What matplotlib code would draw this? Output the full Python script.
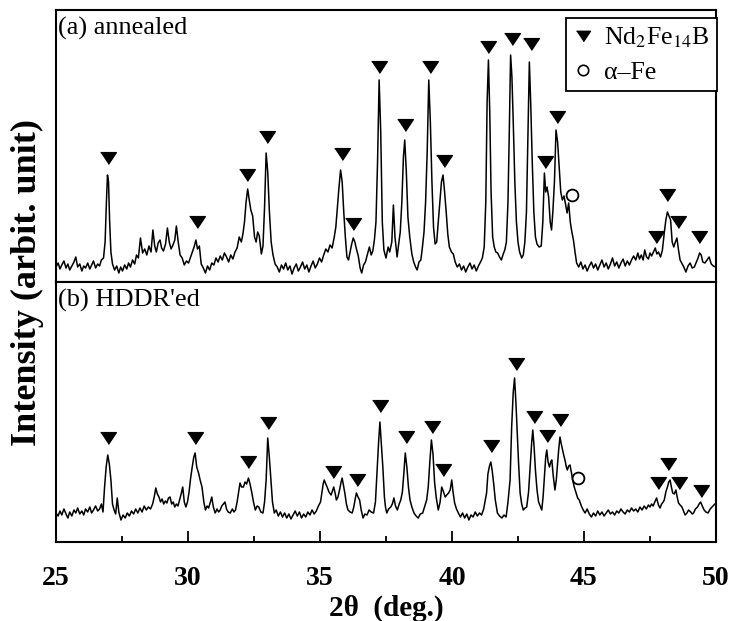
import matplotlib
matplotlib.use('Agg')
import matplotlib.pyplot as plt
from matplotlib.lines import Line2D

plt.rcParams['font.family'] = ['Liberation Serif', 'DejaVu Serif']
plt.rcParams['mathtext.fontset'] = 'stix'

# (a) annealed pattern: (2theta, intensity)
pattern_a = [
    (25.00, 15), (25.08, 19), (25.15, 13), (25.22, 17), (25.30, 21), (25.38, 14), (25.45, 18), (25.52, 12),
    (25.60, 16), (25.68, 20), (25.75, 25), (25.82, 15), (25.90, 18), (25.98, 11), (26.05, 16), (26.12, 14),
    (26.20, 19), (26.28, 13), (26.35, 17), (26.42, 21), (26.50, 14), (26.58, 18), (26.65, 16), (26.72, 22),
    (26.80, 24), (26.86, 40), (26.91, 80), (26.95, 107), (26.99, 100), (27.03, 62), (27.08, 30), (27.14, 18),
    (27.22, 12), (27.30, 16), (27.38, 9), (27.45, 15), (27.52, 11), (27.60, 17), (27.68, 13), (27.75, 19),
    (27.82, 15), (27.90, 22), (27.98, 18), (28.05, 27), (28.12, 24), (28.20, 44), (28.28, 29), (28.36, 33),
    (28.44, 27), (28.52, 36), (28.60, 30), (28.67, 52), (28.74, 36), (28.80, 30), (28.87, 39), (28.94, 42),
    (29.00, 34), (29.07, 31), (29.15, 38), (29.22, 54), (29.29, 40), (29.36, 33), (29.43, 37), (29.50, 42),
    (29.56, 56), (29.63, 40), (29.70, 27), (29.78, 24), (29.86, 17), (29.94, 21), (30.02, 19), (30.10, 25),
    (30.17, 30), (30.23, 35), (30.30, 42), (30.36, 33), (30.43, 36), (30.50, 18), (30.58, 14), (30.66, 9),
    (30.74, 16), (30.82, 12), (30.90, 19), (30.98, 17), (31.06, 24), (31.14, 20), (31.22, 26), (31.30, 22),
    (31.38, 29), (31.46, 25), (31.54, 20), (31.62, 27), (31.70, 23), (31.78, 30), (31.86, 34), (31.94, 45),
    (32.02, 40), (32.08, 48), (32.14, 60), (32.20, 80), (32.26, 93), (32.32, 82), (32.38, 72), (32.45, 66),
    (32.52, 45), (32.58, 40), (32.64, 50), (32.70, 46), (32.78, 28), (32.84, 36), (32.90, 75), (32.96, 129),
    (33.02, 110), (33.08, 72), (33.15, 40), (33.22, 27), (33.30, 18), (33.38, 15), (33.46, 10), (33.54, 17),
    (33.62, 13), (33.70, 19), (33.78, 12), (33.86, 16), (33.94, 8), (34.02, 14), (34.10, 18), (34.18, 11),
    (34.26, 15), (34.34, 20), (34.42, 13), (34.50, 17), (34.58, 10), (34.66, 16), (34.74, 21), (34.82, 14),
    (34.90, 18), (34.98, 24), (35.06, 20), (35.14, 27), (35.22, 33), (35.30, 30), (35.38, 37), (35.46, 34),
    (35.54, 45), (35.60, 55), (35.66, 75), (35.72, 95), (35.78, 112), (35.84, 100), (35.90, 70), (35.96, 45),
    (36.02, 25), (36.08, 22), (36.14, 30), (36.20, 38), (36.26, 44), (36.32, 40), (36.38, 33), (36.45, 26),
    (36.52, 14), (36.58, 9), (36.65, 17), (36.72, 20), (36.80, 28), (36.87, 35), (36.94, 27), (37.00, 31),
    (37.06, 42), (37.12, 60), (37.18, 120), (37.24, 202), (37.30, 150), (37.36, 60), (37.42, 32), (37.50, 24),
    (37.58, 35), (37.64, 30), (37.72, 40), (37.78, 77), (37.84, 45), (37.92, 25), (37.98, 38), (38.04, 50),
    (38.10, 80), (38.16, 125), (38.21, 142), (38.27, 110), (38.33, 65), (38.40, 45), (38.48, 28), (38.55, 20),
    (38.62, 15), (38.68, 12), (38.75, 20), (38.82, 22), (38.88, 35), (38.94, 50), (39.00, 80), (39.06, 130),
    (39.12, 202), (39.18, 160), (39.24, 100), (39.30, 55), (39.36, 38), (39.42, 40), (39.48, 60), (39.54, 80),
    (39.60, 100), (39.66, 107), (39.72, 90), (39.78, 70), (39.84, 48), (39.90, 35), (39.98, 30), (40.05, 28),
    (40.12, 20), (40.20, 15), (40.28, 18), (40.36, 12), (40.44, 16), (40.52, 10), (40.60, 15), (40.68, 19),
    (40.76, 13), (40.84, 17), (40.92, 11), (41.00, 16), (41.08, 20), (41.15, 24), (41.22, 35), (41.28, 80),
    (41.33, 180), (41.38, 222), (41.43, 170), (41.48, 90), (41.54, 45), (41.60, 35), (41.66, 30), (41.73, 29),
    (41.80, 25), (41.87, 22), (41.94, 28), (42.00, 32), (42.06, 40), (42.12, 80), (42.17, 150), (42.22, 227),
    (42.27, 205), (42.32, 160), (42.38, 100), (42.44, 60), (42.50, 40), (42.56, 30), (42.64, 24), (42.70, 27),
    (42.76, 40), (42.82, 70), (42.88, 150), (42.93, 220), (42.98, 180), (43.04, 120), (43.10, 70), (43.16, 45),
    (43.22, 38), (43.30, 35), (43.38, 36), (43.44, 60), (43.50, 109), (43.55, 90), (43.60, 95), (43.66, 85),
    (43.72, 60), (43.77, 52), (43.82, 70), (43.88, 100), (43.94, 152), (44.00, 140), (44.06, 115), (44.12, 90),
    (44.18, 82), (44.24, 86), (44.30, 78), (44.36, 69), (44.42, 79), (44.48, 60), (44.54, 50), (44.60, 42),
    (44.66, 30), (44.72, 19), (44.80, 15), (44.88, 20), (44.96, 13), (45.04, 17), (45.12, 11), (45.20, 16),
    (45.28, 20), (45.36, 14), (45.44, 18), (45.52, 12), (45.60, 17), (45.68, 22), (45.76, 15), (45.84, 19),
    (45.92, 13), (46.00, 18), (46.08, 24), (46.16, 16), (46.24, 20), (46.32, 14), (46.40, 19), (46.48, 23),
    (46.56, 16), (46.64, 21), (46.72, 17), (46.80, 22), (46.88, 26), (46.96, 22), (47.04, 29), (47.10, 23),
    (47.17, 27), (47.24, 22), (47.30, 32), (47.37, 25), (47.44, 23), (47.50, 29), (47.56, 26), (47.63, 30),
    (47.70, 34), (47.76, 28), (47.82, 30), (47.90, 25), (47.97, 32), (48.04, 49), (48.10, 62), (48.16, 70),
    (48.22, 66), (48.28, 62), (48.34, 40), (48.40, 35), (48.46, 40), (48.52, 44), (48.58, 32), (48.64, 22),
    (48.70, 19), (48.78, 15), (48.86, 10), (48.94, 16), (49.02, 19), (49.10, 14), (49.18, 15), (49.26, 20),
    (49.32, 24), (49.38, 29), (49.44, 27), (49.50, 20), (49.58, 19), (49.66, 22), (49.74, 25), (49.82, 18),
    (49.90, 16), (50.00, 15),
]

# (b) HDDR'ed pattern
pattern_b = [
    (25.00, 29), (25.08, 26), (25.15, 31), (25.22, 27), (25.30, 33), (25.38, 28), (25.45, 24), (25.52, 30),
    (25.60, 26), (25.68, 32), (25.75, 29), (25.82, 34), (25.90, 28), (25.98, 31), (26.05, 27), (26.12, 33),
    (26.20, 30), (26.28, 35), (26.35, 29), (26.42, 32), (26.50, 36), (26.58, 31), (26.65, 33), (26.72, 38),
    (26.78, 30), (26.84, 55), (26.90, 75), (26.96, 87), (27.02, 78), (27.08, 62), (27.14, 38), (27.20, 32),
    (27.26, 28), (27.32, 44), (27.38, 30), (27.46, 22), (27.54, 27), (27.62, 24), (27.70, 29), (27.78, 26),
    (27.86, 31), (27.94, 28), (28.02, 33), (28.10, 29), (28.18, 34), (28.26, 30), (28.34, 36), (28.42, 32),
    (28.50, 35), (28.58, 33), (28.66, 38), (28.72, 45), (28.78, 54), (28.84, 48), (28.90, 45), (28.96, 40),
    (29.02, 43), (29.08, 38), (29.14, 41), (29.20, 39), (29.26, 44), (29.32, 45), (29.38, 38), (29.44, 40),
    (29.50, 35), (29.56, 38), (29.62, 36), (29.68, 42), (29.74, 48), (29.80, 55), (29.86, 40), (29.92, 35),
    (29.98, 40), (30.04, 50), (30.10, 64), (30.16, 75), (30.22, 85), (30.27, 89), (30.33, 75), (30.40, 69),
    (30.46, 62), (30.53, 55), (30.60, 40), (30.66, 32), (30.72, 36), (30.78, 34), (30.85, 40), (30.90, 45),
    (30.96, 35), (31.03, 29), (31.10, 33), (31.16, 30), (31.22, 32), (31.28, 36), (31.34, 38), (31.40, 40),
    (31.46, 33), (31.52, 30), (31.60, 29), (31.68, 33), (31.74, 30), (31.80, 32), (31.86, 40), (31.92, 50),
    (31.97, 59), (32.03, 55), (32.10, 55), (32.16, 60), (32.22, 58), (32.29, 64), (32.35, 58), (32.42, 49),
    (32.48, 40), (32.55, 32), (32.62, 36), (32.68, 35), (32.76, 30), (32.84, 29), (32.90, 40), (32.96, 62),
    (33.02, 104), (33.08, 85), (33.14, 62), (33.20, 40), (33.27, 29), (33.34, 32), (33.42, 26), (33.50, 30),
    (33.58, 25), (33.66, 29), (33.74, 24), (33.82, 28), (33.90, 23), (33.98, 27), (34.06, 31), (34.14, 26),
    (34.22, 30), (34.30, 24), (34.38, 28), (34.46, 25), (34.54, 30), (34.62, 27), (34.70, 32), (34.78, 28),
    (34.86, 31), (34.94, 36), (35.02, 40), (35.07, 49), (35.12, 58), (35.16, 62), (35.22, 58), (35.27, 55),
    (35.34, 50), (35.42, 47), (35.48, 52), (35.52, 55), (35.58, 48), (35.62, 42), (35.68, 45), (35.74, 52),
    (35.80, 60), (35.84, 64), (35.90, 55), (35.94, 49), (36.00, 38), (36.06, 32), (36.14, 30), (36.22, 29),
    (36.28, 35), (36.34, 44), (36.38, 49), (36.44, 45), (36.50, 42), (36.56, 32), (36.63, 24), (36.70, 28),
    (36.78, 27), (36.86, 32), (36.94, 30), (37.03, 29), (37.10, 40), (37.16, 69), (37.22, 100), (37.27, 120),
    (37.32, 100), (37.38, 75), (37.44, 45), (37.48, 35), (37.53, 29), (37.60, 33), (37.68, 35), (37.74, 38),
    (37.80, 44), (37.86, 36), (37.93, 32), (38.00, 38), (38.06, 42), (38.12, 50), (38.18, 70), (38.23, 89),
    (38.29, 75), (38.35, 55), (38.41, 42), (38.48, 35), (38.56, 29), (38.64, 26), (38.72, 24), (38.80, 28),
    (38.89, 29), (38.96, 35), (39.04, 42), (39.10, 55), (39.16, 80), (39.22, 102), (39.28, 88), (39.34, 60),
    (39.40, 45), (39.48, 32), (39.55, 40), (39.61, 55), (39.68, 50), (39.74, 45), (39.80, 47), (39.87, 49),
    (39.93, 52), (39.99, 62), (40.04, 50), (40.10, 39), (40.17, 33), (40.24, 29), (40.32, 25), (40.40, 29),
    (40.48, 24), (40.56, 28), (40.64, 22), (40.72, 27), (40.80, 25), (40.88, 30), (40.96, 26), (41.04, 29),
    (41.12, 27), (41.20, 33), (41.26, 42), (41.31, 49), (41.36, 68), (41.42, 76), (41.47, 80), (41.52, 72),
    (41.58, 58), (41.64, 42), (41.72, 29), (41.80, 26), (41.89, 24), (41.97, 27), (42.05, 25), (42.12, 40),
    (42.20, 62), (42.26, 115), (42.32, 150), (42.37, 164), (42.42, 140), (42.47, 110), (42.52, 80), (42.58, 49),
    (42.64, 38), (42.70, 32), (42.77, 34), (42.83, 35), (42.90, 50), (42.96, 75), (43.02, 100), (43.06, 112),
    (43.11, 95), (43.16, 72), (43.22, 52), (43.28, 40), (43.34, 36), (43.40, 32), (43.45, 45), (43.50, 65),
    (43.55, 85), (43.59, 92), (43.64, 80), (43.69, 75), (43.74, 80), (43.78, 82), (43.84, 65), (43.90, 52),
    (43.95, 62), (43.99, 75), (44.04, 92), (44.09, 105), (44.14, 98), (44.19, 92), (44.24, 86), (44.28, 82),
    (44.33, 75), (44.37, 72), (44.42, 76), (44.47, 77), (44.52, 70), (44.57, 62), (44.63, 55), (44.70, 49),
    (44.76, 44), (44.82, 42), (44.90, 36), (44.97, 32), (45.04, 29), (45.12, 33), (45.20, 28), (45.28, 25),
    (45.36, 29), (45.44, 26), (45.52, 31), (45.60, 27), (45.68, 30), (45.76, 26), (45.84, 29), (45.92, 32),
    (46.00, 28), (46.08, 30), (46.16, 27), (46.24, 31), (46.32, 29), (46.40, 33), (46.48, 30), (46.56, 28),
    (46.64, 32), (46.72, 30), (46.80, 34), (46.88, 31), (46.96, 33), (47.04, 30), (47.12, 35), (47.20, 32),
    (47.28, 36), (47.36, 33), (47.44, 37), (47.50, 35), (47.56, 38), (47.62, 36), (47.68, 40), (47.75, 44),
    (47.82, 37), (47.88, 34), (47.94, 38), (48.00, 40), (48.04, 42), (48.10, 50), (48.16, 55), (48.21, 60),
    (48.26, 62), (48.31, 55), (48.36, 49), (48.42, 48), (48.48, 52), (48.53, 45), (48.58, 39), (48.64, 37),
    (48.71, 35), (48.77, 31), (48.83, 27), (48.90, 29), (48.96, 32), (49.04, 30), (49.10, 28), (49.15, 29),
    (49.22, 33), (49.30, 35), (49.36, 38), (49.42, 40), (49.48, 36), (49.55, 32), (49.62, 30), (49.70, 29),
    (49.78, 33), (49.85, 35), (49.92, 37), (50.00, 39),
]

# Nd2Fe14B peak markers (2theta, height) and alpha-Fe markers
nd_marks_a = [(26.98, 124), (30.33, 60), (32.22, 107), (32.98, 145), (35.82, 128), (36.26, 58),
              (37.25, 215), (38.22, 157), (39.17, 215), (39.70, 121), (41.38, 235), (42.26, 243),
              (42.98, 238), (43.52, 120), (43.99, 165), (47.73, 45), (48.16, 87), (48.55, 60), (49.37, 45)]
fe_marks_a = [(44.53, 87)]
nd_marks_b = [(26.98, 104), (30.27, 104), (32.29, 80), (33.04, 119), (35.50, 70), (36.39, 62),
              (37.27, 136), (38.26, 105), (39.23, 115), (39.67, 72), (41.47, 96), (42.42, 178),
              (43.11, 125), (43.61, 106), (44.09, 122), (47.79, 59), (48.19, 78), (48.61, 59), (49.42, 51)]
fe_marks_b = [(44.78, 64)]

labels = ['(a) annealed', "(b) HDDR'ed"]
x_ticks = [25, 30, 35, 40, 45, 50]

tri = [(-1, 0.75), (1, 0.75), (0, -0.75)]

W, H = 732, 621
fig = plt.figure(figsize=(W / 100, H / 100), dpi=100)
ax_a = fig.add_axes([56 / W, 1 - 282 / H, 660 / W, 272 / H])
ax_b = fig.add_axes([56 / W, 1 - 542 / H, 660 / W, 260 / H], sharex=ax_a)

panels = [(ax_a, pattern_a, nd_marks_a, fe_marks_a, 272),
          (ax_b, pattern_b, nd_marks_b, fe_marks_b, 260)]

for i, (ax, pat, nd, fe, ytop) in enumerate(panels):
    ax.plot([p[0] for p in pat], [p[1] for p in pat], color='black', lw=1.1)
    ax.plot([m[0] for m in nd], [m[1] for m in nd], ls='none', marker=tri,
            ms=11.3, color='black')
    ax.plot([m[0] for m in fe], [m[1] for m in fe], ls='none', marker='o',
            ms=8.5, mfc='white', mec='black', mew=1.3)
    ax.set_ylim(0, ytop)
    ax.set_yticks([])
    for s in ax.spines.values():
        s.set_linewidth(1.5)
    ax.text(0.003, 0.975, labels[i], transform=ax.transAxes, ha='left', va='top',
            fontsize=19)

ax_a.set_xlim(25, 50)
ax_a.tick_params(axis='x', which='both', bottom=False, labelbottom=False)
ax_b.set_xticks(x_ticks)
ax_b.set_xticks([27.5, 32.5, 37.5, 42.5, 47.5], minor=True)
ax_b.tick_params(axis='x', which='major', direction='in', length=8, width=1.3, pad=17,
                 labelsize=20)
ax_b.tick_params(axis='x', which='minor', direction='in', length=4.5, width=1.3)
for t in ax_b.get_xticklabels():
    t.set_fontweight('bold')
ax_b.set_xlabel('2θ  (deg.)', fontsize=21, fontweight='bold', labelpad=3)

fig.text(27 / W, 1 - 282 / H, 'Intensity (arbit. unit)', rotation=90, ha='center',
         va='center', fontsize=26, fontweight='bold')

handles = [Line2D([], [], ls='none', marker=tri, ms=10, color='black'),
           Line2D([], [], ls='none', marker='o', ms=7.5, mfc='white', mec='black', mew=1.2)]
leg = ax_a.legend(handles, [r'Nd$_2$Fe$_{14}$B', 'α–Fe'], loc='upper right',
                  bbox_to_anchor=(1.002, 0.97), borderaxespad=0, fancybox=False,
                  edgecolor='black', framealpha=1, fontsize=18.5, handlelength=0.75,
                  handletextpad=0.45, labelspacing=0.4, borderpad=0.3)
leg.get_frame().set_linewidth(1.3)

fig.savefig('out.png', dpi=100)
